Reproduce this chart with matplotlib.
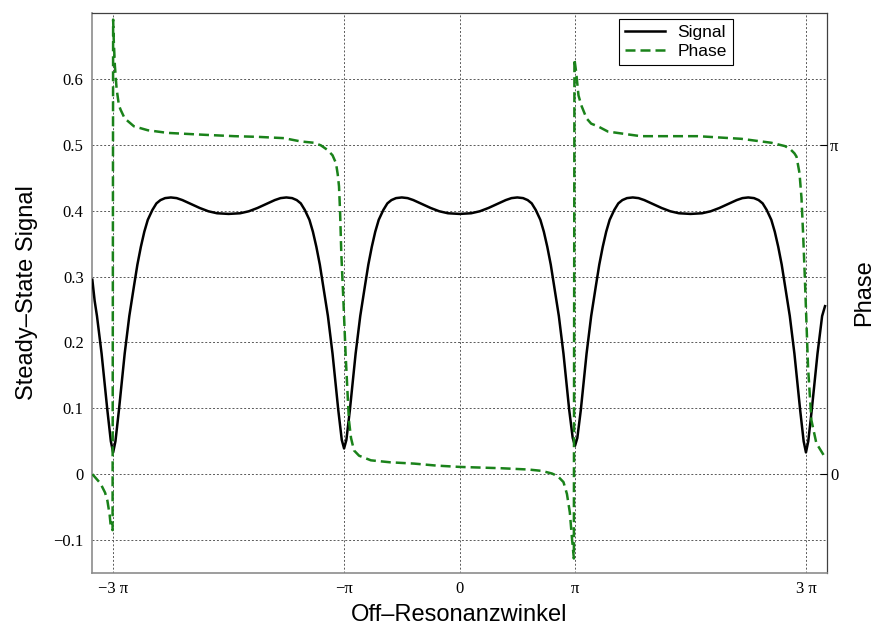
"""
Steady-state signal and phase against the off-resonance angle,
signal on the left axis and phase on the right one.
"""

import numpy as np
import matplotlib

matplotlib.use("Agg")
import matplotlib.pyplot as plt

# off-resonance angle, in units of pi
signal_x = [
    -3.18, -3.16, -3.14, -3.12, -3.10, -3.075, -3.05, -3.02, -3.0,
    # -3 pi .. -pi
    -2.98, -2.95, -2.925, -2.90, -2.88, -2.86, -2.84, -2.82, -2.79, -2.76,
    -2.73, -2.70, -2.66, -2.625, -2.59, -2.55, -2.50, -2.45, -2.40, -2.325,
    -2.25, -2.175, -2.10, -2.0,
    -1.90, -1.825, -1.75, -1.675, -1.60, -1.55, -1.50, -1.45, -1.41, -1.375,
    -1.34, -1.30, -1.27, -1.24, -1.21, -1.18, -1.16, -1.14, -1.12, -1.10,
    -1.075, -1.05, -1.02, -1.0,
    # -pi .. pi
    -0.98, -0.95, -0.925, -0.90, -0.88, -0.86, -0.84, -0.82, -0.79, -0.76,
    -0.73, -0.70, -0.66, -0.625, -0.59, -0.55, -0.50, -0.45, -0.40, -0.325,
    -0.25, -0.175, -0.10, 0.0,
    0.10, 0.175, 0.25, 0.325, 0.40, 0.45, 0.50, 0.55, 0.59, 0.625,
    0.66, 0.70, 0.73, 0.76, 0.79, 0.82, 0.84, 0.86, 0.88, 0.90,
    0.925, 0.95, 0.98, 1.0,
    # pi .. 3 pi
    1.02, 1.05, 1.075, 1.10, 1.12, 1.14, 1.16, 1.18, 1.21, 1.24,
    1.27, 1.30, 1.34, 1.375, 1.41, 1.45, 1.50, 1.55, 1.60, 1.675,
    1.75, 1.825, 1.90, 2.0,
    2.10, 2.175, 2.25, 2.325, 2.40, 2.45, 2.50, 2.55, 2.59, 2.625,
    2.66, 2.70, 2.73, 2.76, 2.79, 2.82, 2.84, 2.86, 2.88, 2.90,
    2.925, 2.95, 2.98, 3.0,
    3.02, 3.05, 3.075, 3.10, 3.12, 3.14, 3.165,
]
signal_y = [
    0.295, 0.263, 0.240, 0.212, 0.183, 0.140, 0.097, 0.050, 0.033,
    0.050, 0.097, 0.140, 0.183, 0.212, 0.240, 0.263, 0.285, 0.318, 0.345,
    0.368, 0.386, 0.401, 0.411, 0.416, 0.419, 0.420, 0.419, 0.416, 0.410,
    0.404, 0.399, 0.396, 0.395,
    0.396, 0.399, 0.404, 0.410, 0.416, 0.419, 0.420, 0.419, 0.416, 0.411,
    0.401, 0.386, 0.368, 0.345, 0.318, 0.285, 0.263, 0.240, 0.212, 0.183,
    0.140, 0.097, 0.052, 0.039,
    0.052, 0.097, 0.140, 0.183, 0.212, 0.240, 0.263, 0.285, 0.318, 0.345,
    0.368, 0.386, 0.401, 0.411, 0.416, 0.419, 0.420, 0.419, 0.416, 0.410,
    0.404, 0.399, 0.396, 0.395,
    0.396, 0.399, 0.404, 0.410, 0.416, 0.419, 0.420, 0.419, 0.416, 0.411,
    0.401, 0.386, 0.368, 0.345, 0.318, 0.285, 0.263, 0.240, 0.212, 0.183,
    0.140, 0.097, 0.055, 0.043,
    0.055, 0.097, 0.140, 0.183, 0.212, 0.240, 0.263, 0.285, 0.318, 0.345,
    0.368, 0.386, 0.401, 0.411, 0.416, 0.419, 0.420, 0.419, 0.416, 0.410,
    0.404, 0.399, 0.396, 0.395,
    0.396, 0.399, 0.404, 0.410, 0.416, 0.419, 0.420, 0.419, 0.416, 0.411,
    0.401, 0.386, 0.368, 0.345, 0.318, 0.285, 0.263, 0.240, 0.212, 0.183,
    0.140, 0.097, 0.050, 0.033,
    0.050, 0.097, 0.140, 0.183, 0.212, 0.240, 0.255,
]

# phase, as a fraction of 2 pi (read against the left scale)
phase_x = [
    -3.18, -3.15, -3.11, -3.07, -3.05, -3.03, -3.02, -3.005, -3.0, -2.995,
    -2.985, -2.97, -2.95, -2.935, -2.90, -2.82, -2.70, -2.53, -2.20, -1.95,
    -1.75, -1.52, -1.375, -1.26, -1.20, -1.143, -1.10, -1.07, -1.055, -1.044,
    -1.035, -1.024, -1.005, -0.987, -0.972, -0.958, -0.94, -0.914, -0.87, -0.768,
    -0.60, -0.392, -0.20, 0.0, 0.36, 0.60, 0.71, 0.80, 0.85, 0.90,
    0.93, 0.955, 0.975, 0.99, 0.995, 1.01, 1.03, 1.054, 1.10, 1.14,
    1.198, 1.285, 1.487, 1.57, 2.064, 2.44, 2.70, 2.817, 2.86, 2.90,
    2.918, 2.944, 2.961, 2.975, 2.99, 3.018, 3.047, 3.09, 3.16,
]
phase_y = [
    0.000, -0.006, -0.014, -0.028, -0.040, -0.062, -0.080, -0.085, 0.690, 0.660,
    0.620, 0.585, 0.560, 0.553, 0.540, 0.528, 0.522, 0.518, 0.515, 0.513,
    0.512, 0.510, 0.505, 0.503, 0.499, 0.492, 0.484, 0.472, 0.455, 0.437,
    0.400, 0.335, 0.260, 0.183, 0.130, 0.082, 0.055, 0.036, 0.028, 0.021,
    0.018, 0.016, 0.013, 0.011, 0.009, 0.007, 0.005, 0.001, -0.003, -0.012,
    -0.030, -0.058, -0.100, -0.128, 0.630, 0.610, 0.575, 0.560, 0.540, 0.532,
    0.528, 0.520, 0.515, 0.513, 0.513, 0.509, 0.503, 0.498, 0.494, 0.487,
    0.482, 0.457, 0.420, 0.366, 0.300, 0.163, 0.082, 0.047, 0.027,
]

x_ticks = [-3, -1, 0, 1, 3]
x_tick_labels = ["\u22123 \u03c0", "\u2212\u03c0", "0", "\u03c0", "3 \u03c0"]
y_ticks = [-0.1, 0, 0.1, 0.2, 0.3, 0.4, 0.5, 0.6]
y_tick_labels = ["\u22120.1", "0", "0.1", "0.2", "0.3", "0.4", "0.5", "0.6"]
phase_ticks = [0, np.pi]
phase_tick_labels = ["0", "\u03c0"]

serif = ["Liberation Serif", "DejaVu Serif"]
sans = ["Liberation Sans", "DejaVu Sans"]

fig = plt.figure(figsize=(8.77, 6.3), dpi=100)
ax = fig.add_axes([0.1049, 0.0905, 0.8382, 0.8889])

ax.plot(np.array(signal_x) * np.pi, signal_y, color="black", lw=1.8,
        label="Signal", zorder=3, solid_joinstyle="round")
ax.plot(np.array(phase_x) * np.pi, phase_y, color="#1a821a", lw=1.8,
        ls="--", dashes=(4, 2), label="Phase", zorder=4)

ax.set_xlim(-10, 10)
ax.set_ylim(-0.15, 0.70)
ax.set_xticks(np.array(x_ticks) * np.pi)
ax.set_xticklabels(x_tick_labels, family=serif, fontsize=12)
ax.set_yticks(y_ticks)
ax.set_yticklabels(y_tick_labels, family=serif, fontsize=12)
ax.tick_params(axis="both", length=0, pad=6)
ax.grid(True, ls=(0, (2, 2)), lw=0.7, color="0.35")

for side in ("left", "bottom"):
    ax.spines[side].set_color("0.55")
    ax.spines[side].set_linewidth(1.2)
for side in ("top", "right"):
    ax.spines[side].set_color("0.25")
    ax.spines[side].set_linewidth(0.9)

ax.set_xlabel("Off\u2013Resonanzwinkel", family=sans, fontsize=17, labelpad=5)
ax.set_ylabel("Steady\u2013State Signal", family=sans, fontsize=17, labelpad=11)

# right axis carries the phase in radians: pi sits at 0.5 on the left scale
ax2 = ax.twinx()
ax2.set_ylim(-0.15 * 2 * np.pi, 0.70 * 2 * np.pi)
ax2.set_yticks(phase_ticks)
ax2.set_yticklabels(phase_tick_labels, family=serif, fontsize=12)
ax2.tick_params(axis="y", direction="in", length=5, width=0.8, pad=2)
ax2.set_ylabel("Phase", family=sans, fontsize=17, labelpad=11)
for spine in ax2.spines.values():
    spine.set_visible(False)

leg = ax.legend(loc="upper right", bbox_to_anchor=(0.872, 0.99),
                prop={"family": sans, "size": 12.5}, fancybox=False,
                framealpha=1, edgecolor="black", borderpad=0.35,
                labelspacing=0.25, handlelength=2.3, handletextpad=0.7,
                borderaxespad=0)
leg.get_frame().set_linewidth(0.8)

fig.savefig("out.png", dpi=100)
